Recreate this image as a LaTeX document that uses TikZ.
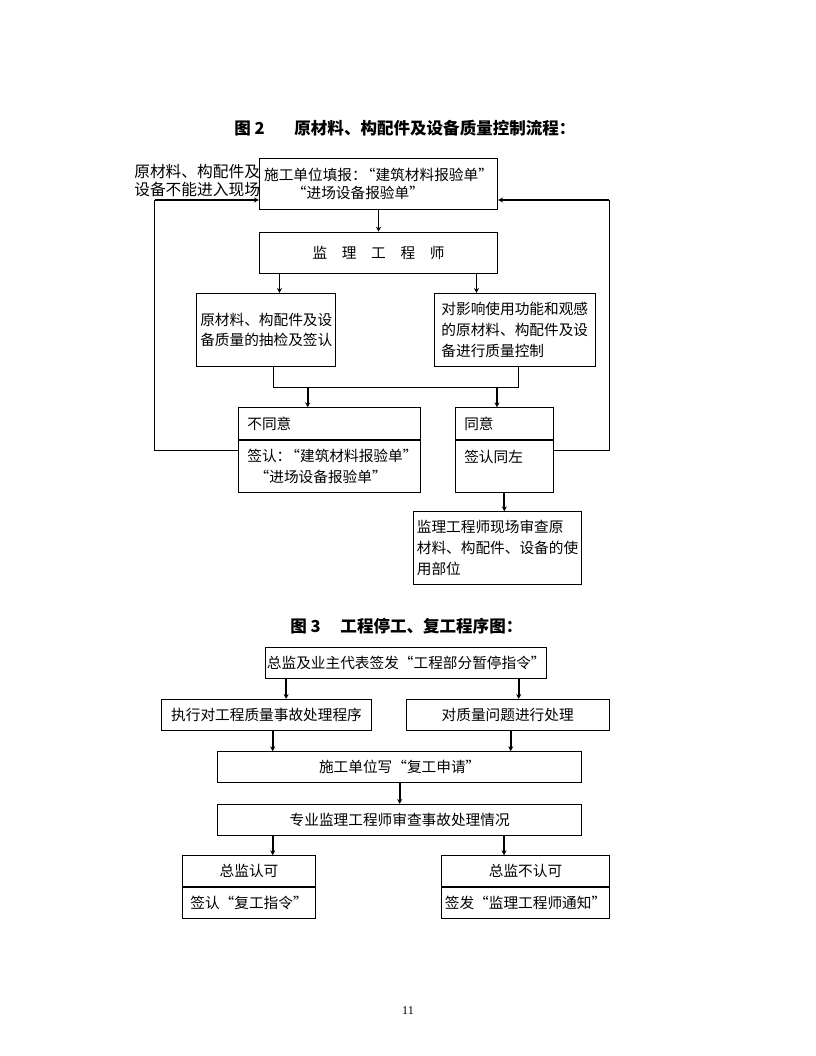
\documentclass[tikz,border=0pt]{standalone}
\usepackage{fontspec}
\newfontfamily\cjk{Noto Sans CJK SC}
\newfontfamily\pagefont{Liberation Serif}
\usetikzlibrary{positioning,arrows.meta}

\tikzset{
  box/.style={draw, line width=0.75pt, fill=white, inner sep=0pt, align=center,
    font=\cjk\fontsize{11}{15.5}\selectfont},
  arr/.style={line width=1.3pt, -{Stealth[length=3.6pt,width=3.8pt]}},
  thin/.style={line width=0.75pt},
  title/.style={anchor=west, inner sep=0pt, font=\cjk\bfseries\fontsize{12.4}{14}\selectfont},
}
\newcommand\colonfw{：\kern-.4em}

\begin{document}
\begin{tikzpicture}[x=0.75pt,y=-0.75pt]
  \useasboundingbox (0,0) rectangle (816,1056);
  % figure 2
  \node[title] (t2) at (234,128) {图 2\hspace{1.8em}原材料、构配件及设备质量控制流程：};
  \node[anchor=west, inner sep=0pt, align=left, font=\cjk\fontsize{11.8}{13}\selectfont] (noentry) at (134,180.5) {原材料、构配件及\\设备不能进入现场};
  \node[box, align=left, minimum width=178.8pt, minimum height=38.3pt, font=\cjk\fontsize{11}{13}\selectfont] (apply) at (378.5,183.8) {施工单位填报\colonfw“建筑材料报验单”\\\hspace*{1.9em}“进场设备报验单”};
  \node[box, below=16.3pt of apply, minimum width=178.8pt, minimum height=31pt] (engineer) {监　理　工　程　师};
  \node[box, align=left, minimum width=104.5pt, minimum height=55pt] (sample) at (266.3,330) {原材料、构配件及设\\备质量的抽检及签认};
  \node[box, align=left, minimum width=120.75pt, minimum height=55pt] (control) at (514.8,330) {对影响使用功能和观感\\的原材料、构配件及设\\备进行质量控制};
  \node[box, align=left, text width=122.8pt, minimum width=136.3pt, minimum height=23.7pt] (reject) at (329.2,423.5) {不同意};
  \node[box, align=left, text width=122.8pt, minimum width=136.3pt, minimum height=38.8pt, below=0pt of reject] (rejectsign) {签认\colonfw“建筑材料报验单”\\\hspace*{0.5em}“进场设备报验单”};
  \node[box, align=left, text width=60pt, minimum width=73.5pt, minimum height=23.7pt] (accept) at (504.3,423.5) {同意};
  \node[box, align=left, text width=60pt, minimum width=73.5pt, minimum height=38.8pt, below=0pt of accept] (acceptsign) {签认同左\\\mbox{}};
  \node[box, align=left, minimum width=126.3pt, minimum height=54.2pt] (inspect) at (497.5,547.9) {监理工程师现场审查原\\材料、构配件、设备的使\\用部位};
  \coordinate (lc) at (154.7,200);
  \coordinate (rc) at (609,200);
  %
  \draw[arr] (apply) -- (engineer);
  \draw[arr] ([xshift=15.5pt]engineer.south west) -- ([xshift=15.5pt]engineer.south west |- sample.north);
  \draw[arr] ([xshift=-16.3pt]engineer.south east) -- ([xshift=-16.3pt]engineer.south east |- control.north);
  \draw[thin] ([xshift=5.25pt]sample.south) -- ++(0,20.6) coordinate (mid) -| ([xshift=2.6pt]control.south);
  \draw[arr] ([xshift=-16.1pt]reject.north |- mid) -- ([xshift=-16.1pt]reject.north);
  \draw[arr] ([xshift=-5.5pt]accept.north |- mid) -- ([xshift=-5.5pt]accept.north);
  \draw[thin] ([yshift=12.1pt]rejectsign.west) -| (lc);
  \draw[arr] (lc) -- (lc -| apply.west);
  \draw[thin] ([yshift=12.1pt]acceptsign.east) -| (rc);
  \draw[arr] (rc) -- (rc -| apply.east);
  \draw[arr] (acceptsign.south) -- (acceptsign.south |- inspect.north);

  % figure 3
  \node[title] (t3) at (290,626) {图 3\hspace{1.2em}工程停工、复工程序图：};
  \node[box, minimum width=210.5pt, minimum height=23.25pt] (stop) at (406.3,662.8) {总监及业主代表签发“工程部分暂停指令”};
  \node[box, minimum width=157.2pt, minimum height=23pt] (accproc) at (266.5,714.7) {执行对工程质量事故处理程序};
  \node[box, minimum width=152.5pt, minimum height=23pt] (fix) at (507.7,714.7) {对质量问题进行处理};
  \node[box, minimum width=273pt, minimum height=23pt] (resume) at (399.7,767) {施工单位写“复工申请”};
  \node[box, below=15.75pt of resume, minimum width=273pt, minimum height=23pt] (review) {专业监理工程师审查事故处理情况};
  \node[box, minimum width=100pt, minimum height=23pt] (ok) at (249,871) {总监认可};
  \node[box, below=0pt of ok, minimum width=100pt, minimum height=23.25pt] (oksign) {签认“复工指令”};
  \node[box, minimum width=125.7pt, minimum height=23pt] (notok) at (525.5,871) {总监不认可};
  \node[box, below=0pt of notok, minimum width=125.7pt, minimum height=23.25pt] (notoksign) {签发“监理工程师通知”};
  %
  \draw[arr] ([xshift=15.5pt]stop.south west) -- ([xshift=15.5pt]stop.south west |- accproc.north);
  \draw[arr] ([xshift=-21.3pt]stop.south east) -- ([xshift=-21.3pt]stop.south east |- fix.north);
  \draw[arr] ([xshift=4.65pt]accproc.south) -- ([xshift=4.65pt]accproc.south |- resume.north);
  \draw[arr] ([xshift=2.25pt]fix.south) -- ([xshift=2.25pt]fix.south |- resume.north);
  \draw[arr] (resume) -- (review);
  \draw[arr] ([xshift=17.8pt]ok.north |- review.south) -- ([xshift=17.8pt]ok.north);
  \draw[arr] ([xshift=-16.1pt]notok.north |- review.south) -- ([xshift=-16.1pt]notok.north);

  \node[inner sep=0pt, font=\pagefont\fontsize{9}{11}\selectfont] (pagenum) at (408,1011) {11};
\end{tikzpicture}
\end{document}
